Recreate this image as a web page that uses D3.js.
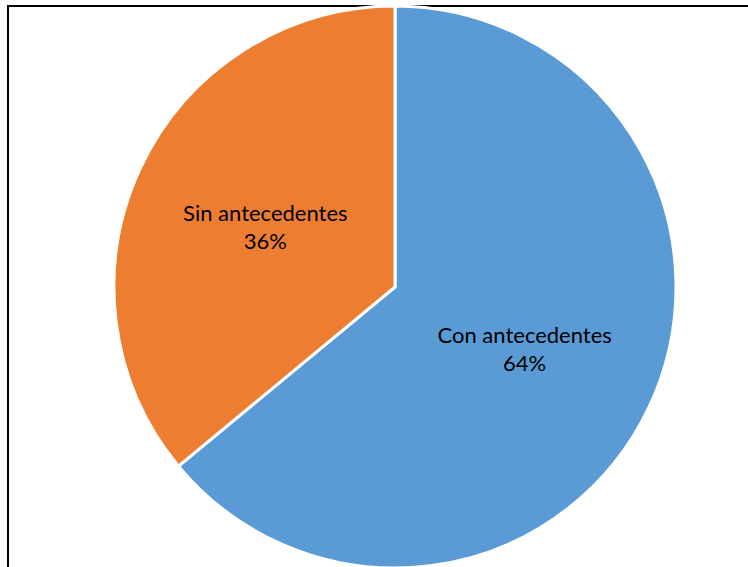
<!DOCTYPE html>
<html>
<head>
<meta charset="utf-8">
<script src="https://cdn.jsdelivr.net/npm/d3@7"></script>
<style>
  html, body { margin: 0; padding: 0; background: #fff; }
  svg { display: block; }
  text { font-family: Lato, "Open Sans", sans-serif; fill: #000; }
</style>
</head>
<body>
<svg id="chart" width="748" height="567"></svg>
<script>
// Antecedentes: share of cases with / without prior history
const categories = ["Con antecedentes", "Sin antecedentes"];
const values = [64, 36];
const colors = ["#5B9BD5", "#ED7D31"];

const width = 748, height = 567;
const cx = 395, cy = 287, radius = 281;

const svg = d3.select("#chart");

// chart frame (left and top edges visible)
svg.append("path")
  .attr("d", `M8,${height} L8,6 L${width},6`)
  .attr("fill", "none")
  .attr("stroke", "#000")
  .attr("stroke-width", 2);

const pie = d3.pie().sort(null).value(d => d.value);
const data = pie(categories.map((c, i) => ({ name: c, value: values[i], color: colors[i] })));

const arc = d3.arc().innerRadius(0).outerRadius(radius);
const labelArc = d3.arc().innerRadius(radius * 0.51).outerRadius(radius * 0.51);

const g = svg.append("g").attr("transform", `translate(${cx},${cy})`);

g.selectAll("path.slice")
  .data(data)
  .join("path")
  .attr("class", "slice")
  .attr("d", arc)
  .attr("fill", d => d.data.color)
  .attr("stroke", "#fff")
  .attr("stroke-width", 3)
  .attr("stroke-linejoin", "miter");

const total = d3.sum(values);
const labels = g.selectAll("text.label")
  .data(data)
  .join("text")
  .attr("class", "label")
  .attr("text-anchor", "middle")
  .attr("font-size", 22)
  .attr("transform", d => `translate(${labelArc.centroid(d)})`);

labels.append("tspan")
  .attr("x", 0).attr("y", -5)
  .text(d => d.data.name);
labels.append("tspan")
  .attr("x", 0).attr("y", 23)
  .text(d => d3.format(".0%")(d.data.value / total));
</script>
</body>
</html>
